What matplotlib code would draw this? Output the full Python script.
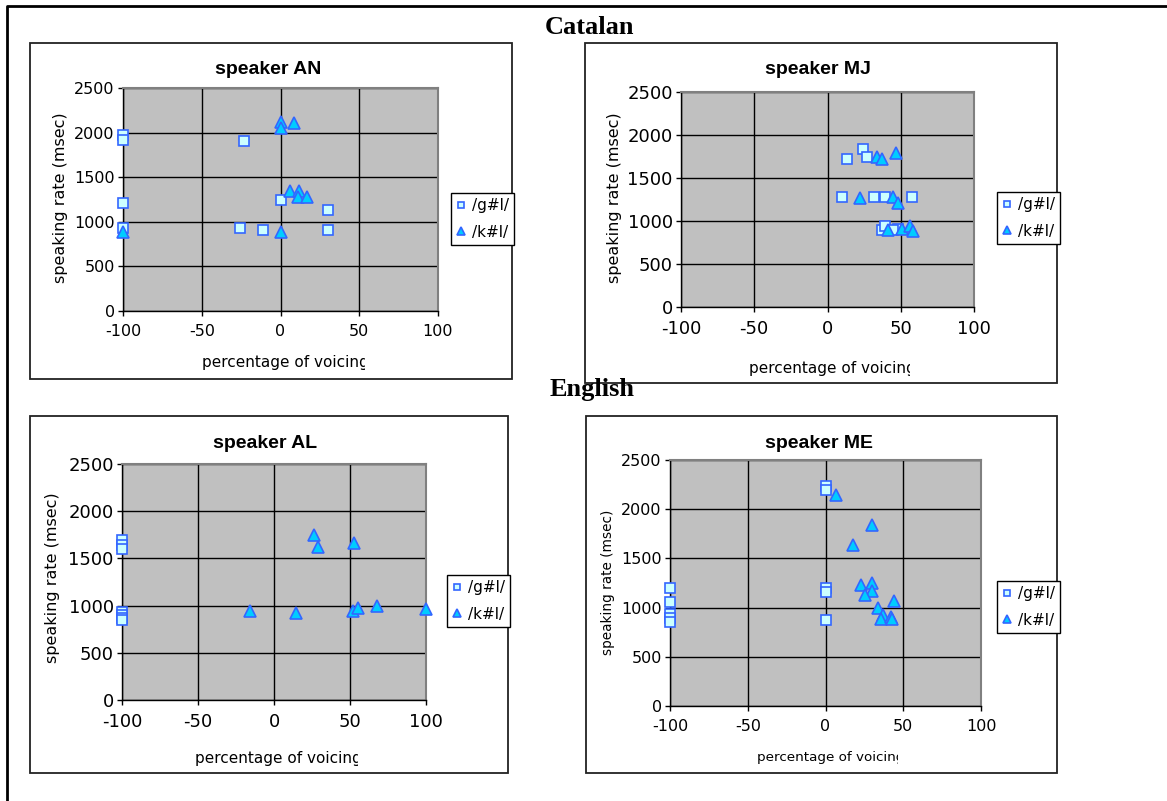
"""Speaking rate vs. percentage of voicing for four speakers (Catalan / English)."""

import matplotlib.pyplot as plt
from matplotlib.lines import Line2D
from matplotlib.patches import Rectangle
from matplotlib.transforms import Bbox, TransformedBbox

W, H = 1167, 801
plt.rcParams["axes.unicode_minus"] = False

# --- data ---
an_g_x = [-100, -100, -23, -100, 0, 30, -100, -26, -11, 30]
an_g_y = [1976, 1920, 1909, 1216, 1239, 1130, 928, 928, 909, 909]
an_k_x = [0, 0, 8.5, 6, 12, 11, 17, 0, -100]
an_k_y = [2115, 2050, 2107, 1340, 1340, 1276, 1276, 883, 883]

mj_g_x = [24, 13.5, 27, 10, 32, 39, 58, 37, 39, 48, 45]
mj_g_y = [1839, 1722, 1750, 1279, 1279, 1279, 1279, 894, 941, 910, 900]
mj_k_x = [33.5, 37, 46.5, 22, 45, 48, 41.5, 51, 56, 58.5]
mj_k_y = [1742, 1722, 1788, 1271, 1275, 1205, 890, 910, 941, 886]

al_g_x = [-100, -100, -100, -100, -100, -100, -100]
al_g_y = [1695, 1642, 1595, 936, 900, 870, 845]
al_k_x = [26, 29, 52.5, -16, 14.5, 52, 55, 68, 100]
al_k_y = [1748, 1617, 1667, 943, 922, 940, 971, 992, 964]

me_g_x = [0, 0, -100, 0, 0, -100, -100, -100, -100, 0]
me_g_y = [2236, 2192, 1201, 1201, 1154, 1059, 940, 890, 849, 873]
me_k_x = [6.5, 30, 17.5, 23, 30, 30, 25.5, 44, 33.5, 37, 36, 42, 43]
me_k_y = [2141, 1837, 1634, 1228, 1252, 1167, 1133, 1069, 991, 924, 880, 907, 880]

x_ticks = [-100, -50, 0, 50, 100]
y_ticks = [0, 500, 1000, 1500, 2000, 2500]
series_labels = ["/g#l/", "/k#l/"]

panels = [
    dict(title="speaker AN", gx=an_g_x, gy=an_g_y, kx=an_k_x, ky=an_k_y,
         box=(30, 43, 512, 379), plot=(123, 88, 438, 311), legend=(451, 193),
         title_xy=(268, 69), ylab_xy=(60, 198), xlab_xy=(202, 363, 365),
         tick_fs=11.5, ylab_fs=11.5, xlab_fs=11),
    dict(title="speaker MJ", gx=mj_g_x, gy=mj_g_y, kx=mj_k_x, ky=mj_k_y,
         box=(585, 43, 1057, 383), plot=(681, 92, 974, 307), legend=(997, 192),
         title_xy=(818, 69), ylab_xy=(615, 198), xlab_xy=(749, 368, 910),
         tick_fs=13, ylab_fs=11.5, xlab_fs=11),
    dict(title="speaker AL", gx=al_g_x, gy=al_g_y, kx=al_k_x, ky=al_k_y,
         box=(30, 416, 508, 773), plot=(122, 464, 426, 700), legend=(447, 575),
         title_xy=(265, 443), ylab_xy=(53, 578), xlab_xy=(195, 758, 358),
         tick_fs=13, ylab_fs=11.5, xlab_fs=11),
    dict(title="speaker ME", gx=me_g_x, gy=me_g_y, kx=me_k_x, ky=me_k_y,
         box=(586, 416, 1057, 773), plot=(670, 460, 981, 706), legend=(997, 581),
         title_xy=(819, 443), ylab_xy=(608, 582), xlab_xy=(757, 757, 898),
         tick_fs=11.5, ylab_fs=9.8, xlab_fs=9.7),
]


def fx(x):
    return x / W


def fy(y):
    return 1 - y / H


fig = plt.figure(figsize=(W / 100, H / 100), dpi=100)
fig.add_artist(Line2D([fx(7), fx(7), fx(1167)], [fy(801), fy(6), fy(6)],
                      transform=fig.transFigure, color="black", lw=2))

fig.text(fx(590), fy(27), "Catalan", ha="center", va="center",
         family="Liberation Serif", fontweight="bold", fontsize=19)
fig.text(fx(592), fy(389), "English", ha="center", va="center",
         family="Liberation Serif", fontweight="bold", fontsize=19)

for p in panels:
    x0, y0, x1, y1 = p["box"]
    fig.add_artist(Rectangle((fx(x0), fy(y1)), fx(x1 - x0), (y1 - y0) / H,
                             transform=fig.transFigure, facecolor="white",
                             edgecolor="#222222", lw=1.3, zorder=-1))

    px0, py0, px1, py1 = p["plot"]
    ax = fig.add_axes([fx(px0), fy(py1), fx(px1 - px0), (py1 - py0) / H])
    ax.set_facecolor("#C0C0C0")
    ax.set_xlim(-100, 100)
    ax.set_ylim(0, 2500)
    ax.set_xticks(x_ticks)
    ax.set_yticks(y_ticks)
    ax.grid(True, color="black", lw=1)
    for side in ("top", "right"):
        ax.spines[side].set_color("#808080")
        ax.spines[side].set_linewidth(1.5)
    for side in ("left", "bottom"):
        ax.spines[side].set_color("black")
        ax.spines[side].set_linewidth(1)
    ax.tick_params(direction="out", length=3.5, width=1, colors="black",
                   labelsize=p["tick_fs"])
    ax.tick_params(axis="y", pad=2.5)
    ax.tick_params(axis="x", pad=6)
    for lbl in ax.get_xticklabels() + ax.get_yticklabels():
        lbl.set_family("DejaVu Sans")

    g, = ax.plot(p["gx"], p["gy"], ls="none", marker="s", ms=7.8,
                 mfc="#CCFFFF", mec="#3366FF", mew=1.2, label=series_labels[0],
                 clip_on=False, zorder=3)
    k, = ax.plot(p["kx"], p["ky"], ls="none", marker="^", ms=9.2,
                 mfc="#00CCFF", mec="#3366FF", mew=1.2, label=series_labels[1],
                 clip_on=False, zorder=3)

    lx, ly = p["legend"]
    leg = ax.legend(handles=[g, k], loc="upper left",
                    bbox_to_anchor=(fx(lx), fy(ly)), bbox_transform=fig.transFigure,
                    frameon=True, fancybox=False, edgecolor="black", framealpha=1,
                    borderpad=0.35, handlelength=0.6, handletextpad=0.4,
                    labelspacing=0.75, borderaxespad=0, markerscale=0.6,
                    fontsize=11)
    leg.get_frame().set_linewidth(1)

    tx, ty = p["title_xy"]
    fig.text(fx(tx), fy(ty), p["title"], ha="center", va="center",
             family="Liberation Sans", fontweight="bold", fontsize=14)

    yx, yy = p["ylab_xy"]
    fig.text(fx(yx), fy(yy), "speaking rate (msec)", ha="center", va="center",
             rotation=90, fontsize=p["ylab_fs"])

    sx, sy, ex = p["xlab_xy"]
    t = fig.text(fx(sx), fy(sy), "percentage of voicing", ha="left", va="center",
                 fontsize=p["xlab_fs"])
    t.set_clip_box(TransformedBbox(Bbox.from_extents(fx(sx) - 0.01, 0, fx(ex), 1),
                                   fig.transFigure))
    t.set_clip_on(True)

fig.savefig("out.png", dpi=100)
